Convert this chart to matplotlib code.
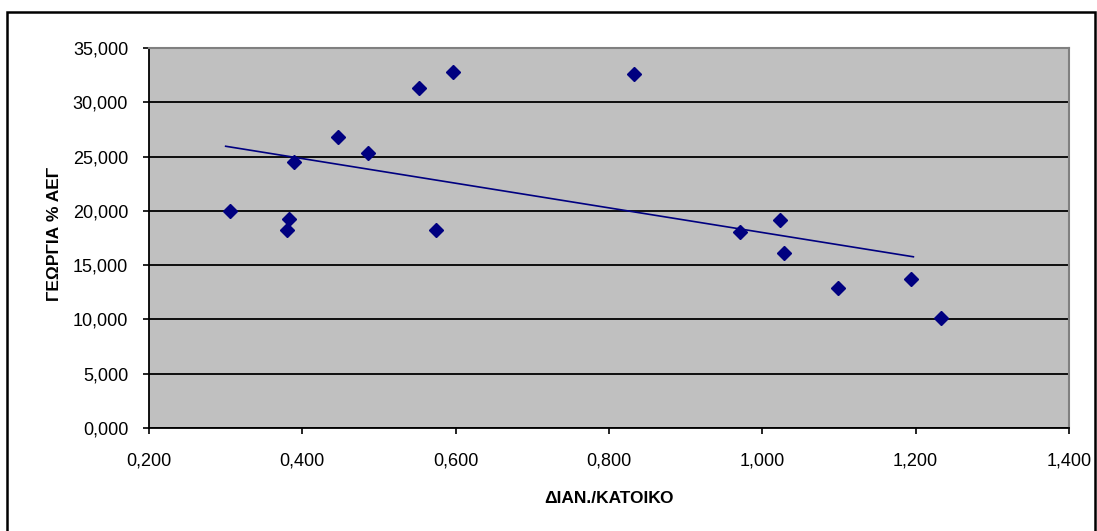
import numpy as np
import matplotlib
matplotlib.use("Agg")
import matplotlib.pyplot as plt
from matplotlib.patches import Rectangle
from matplotlib.ticker import FuncFormatter

plt.rcParams['font.family'] = ['Liberation Sans', 'DejaVu Sans']

# data
dian_katoiko = [0.305, 0.383, 0.380, 0.389, 0.447, 0.485, 0.552, 0.574, 0.597,
                0.832, 0.971, 1.023, 1.028, 1.099, 1.194, 1.233]
georgia_aeg = [19.97, 19.23, 18.21, 24.51, 26.79, 25.31, 31.30, 18.21, 32.75,
               32.59, 18.08, 19.19, 16.14, 12.93, 13.73, 10.16]

trend_x = [0.300, 1.197]
trend_y = [25.95, 15.77]

x_ticks = [0.2, 0.4, 0.6, 0.8, 1.0, 1.2, 1.4]
y_ticks = [0, 5, 10, 15, 20, 25, 30, 35]

navy = '#000080'

fig = plt.figure(figsize=(10.97, 5.31), dpi=100)
ax = fig.add_axes([149/1097, 103/531, 920/1097, 380/531])
ax.set_facecolor('#c0c0c0')

ax.set_xlim(0.2, 1.4)
ax.set_ylim(0, 35)
ax.set_xticks(x_ticks)
ax.set_yticks(y_ticks)

fmt = FuncFormatter(lambda v, p: '{:.3f}'.format(v).replace('.', ','))
ax.xaxis.set_major_formatter(fmt)
ax.yaxis.set_major_formatter(fmt)

ax.grid(axis='y', color='black', linewidth=1.3)
ax.set_axisbelow(True)

ax.plot(trend_x, trend_y, color=navy, linewidth=1.2, zorder=3)
ax.plot(dian_katoiko, georgia_aeg, 'D', color=navy, markersize=7.5, zorder=4)

for s in ['top', 'right']:
    ax.spines[s].set_color('#808080')
    ax.spines[s].set_linewidth(1.5)
for s in ['left', 'bottom']:
    ax.spines[s].set_color('black')
    ax.spines[s].set_linewidth(1.3)

ax.tick_params(direction='out', length=4, width=1.2, labelsize=13, colors='black')
ax.tick_params(axis='x', pad=14)
ax.tick_params(axis='y', pad=11)

ax.set_xlabel('ΔΙΑΝ./ΚΑΤΟΙΚΟ', fontsize=12.5, fontweight='bold')
ax.set_ylabel('ΓΕΩΡΓΙΑ % ΑΕΓ', fontsize=12.5, fontweight='bold')
ax.xaxis.set_label_coords(0.5, -0.166)
ax.yaxis.set_label_coords(-0.095, 0.51)

# outer chart border
fig.patches.append(Rectangle((7/1097, -0.02), 1088/1097, 0.02 + 519/531,
                             transform=fig.transFigure, fill=False,
                             edgecolor='black', linewidth=1.8))

fig.savefig('out.png', dpi=100)
